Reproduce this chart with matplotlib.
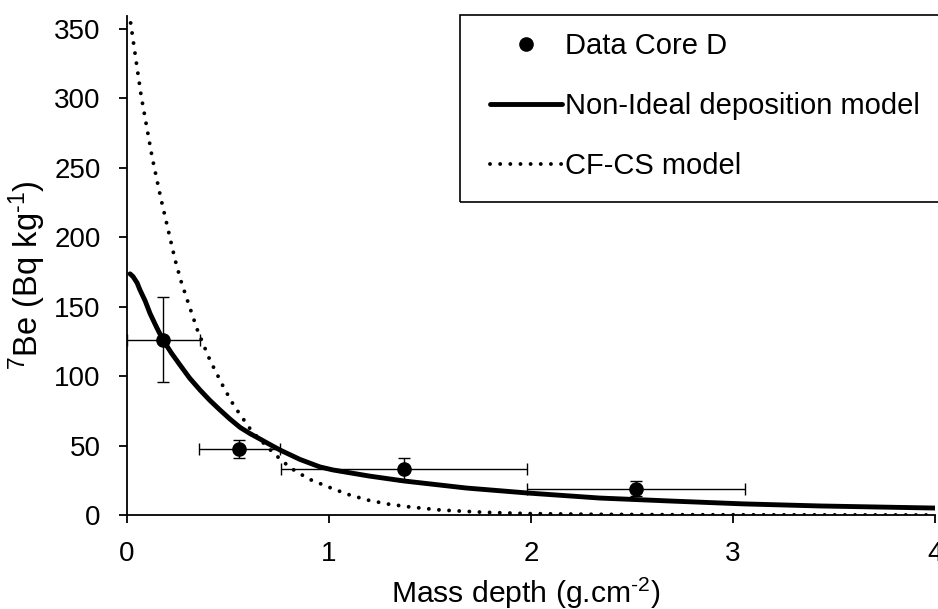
import matplotlib
matplotlib.use("Agg")
import matplotlib.pyplot as plt
from matplotlib.patches import Rectangle

plt.rcParams['font.family'] = ['Liberation Sans', 'DejaVu Sans']
plt.rcParams['mathtext.fontset'] = 'custom'
plt.rcParams['mathtext.rm'] = 'Liberation Sans'
plt.rcParams['mathtext.it'] = 'Liberation Sans'
plt.rcParams['mathtext.bf'] = 'Liberation Sans'

# measured data, core D
x_data = [0.18, 0.555, 1.37, 2.52]
y_data = [126, 47.5, 33, 19]
x_err = [0.18, 0.2, 0.61, 0.54]
y_err = [30.5, 6.2, 8.2, 5.5]

# non-ideal deposition model
nid_x = [0.015, 0.03, 0.05, 0.064, 0.09, 0.114, 0.145, 0.178, 0.22, 0.262, 0.31, 0.361, 0.41,
         0.46, 0.51, 0.56, 0.61, 0.658, 0.71, 0.757, 0.856, 0.955, 1.02, 1.2, 1.37,
         1.68, 1.985, 2.34, 2.7, 3.05, 3.43, 4.0]
nid_y = [173.5, 171.5, 167, 162, 154, 145, 135.5, 126, 116.5, 108, 98.5, 90, 82.5,
         75.6, 69, 63, 58.5, 54.7, 50.5, 46.8, 40, 34.6, 32.4, 28, 24.5,
         19.4, 15.8, 12.2, 10, 8, 6.5, 5]

# CF-CS model
cf_x = [0.018, 0.07, 0.125, 0.168, 0.204, 0.238, 0.268, 0.30, 0.35, 0.41, 0.48, 0.53,
        0.62, 0.73, 0.81, 0.90, 1.0, 1.09, 1.19, 1.29, 1.40, 1.55, 1.76, 1.985, 2.3,
        2.7, 3.2, 4.0]
cf_y = [354, 301.6, 257, 227.5, 205, 183.6, 168, 154, 132.5, 111.6, 91.4, 78.5,
        59.8, 43.9, 33.8, 25.9, 20, 15, 10.8, 7.9, 5.8, 3.6, 2.0, 1.0, 0.5,
        0.2, 0.1, 0.0]

fs_tick = 20
fs = 21

fig = plt.figure(figsize=(9.38, 6.09), dpi=100)
ax = fig.add_axes([127 / 938, 94 / 609, 808 / 938, 499 / 609])

l_nid, = ax.plot(nid_x, nid_y, color='k', lw=3.5, solid_capstyle='round',
                 solid_joinstyle='round', label='Non-Ideal deposition model', zorder=3)
l_cf, = ax.plot(cf_x, cf_y, color='k', lw=2.8, linestyle=(0, (0.01, 2.6)),
                dash_capstyle='round', label='CF-CS model', zorder=3)
ax.errorbar(x_data, y_data, xerr=x_err, yerr=y_err, fmt='none', ecolor='k',
            elinewidth=1.0, capsize=4.3, capthick=1.0, zorder=4)
l_dat, = ax.plot(x_data, y_data, 'o', color='k', ms=9.5, ls='none',
                 label='Data Core D', zorder=5)

ax.set_xlim(0, 4)
ax.set_ylim(0, 359)
ax.set_xticks([0, 1, 2, 3, 4])
ax.set_yticks(range(0, 351, 50))
for s in ['top', 'right']:
    ax.spines[s].set_visible(False)
for s in ['left', 'bottom']:
    ax.spines[s].set_linewidth(1.3)
ax.tick_params(direction='out', length=6, width=1.3, pad=13, labelsize=fs_tick)

ax.set_xlabel(r'Mass depth (g.cm$^{\text{-2}}$)', fontsize=21.7)
ax.xaxis.set_label_coords(0.494, -0.122)
ax.set_ylabel(r'$^{7}$Be (Bq kg$^{\text{-1}}$)', fontsize=23.5)
ax.yaxis.set_label_coords(-0.098, 0.48)

leg = ax.legend(handles=[l_dat, l_nid, l_cf], loc='upper left',
                bbox_to_anchor=(490 / 938, 1 - 32 / 609),
                bbox_transform=fig.transFigure, frameon=False, fontsize=fs,
                borderpad=0, borderaxespad=0, handlelength=2.47,
                handletextpad=0.1, labelspacing=1.1, numpoints=1)

fig.add_artist(Rectangle((460 / 938, (609 - 202) / 609), 0.6, 187 / 609,
                         transform=fig.transFigure, fill=False, lw=1.2,
                         ec='k', clip_on=False))

fig.savefig('out.png', dpi=100)
